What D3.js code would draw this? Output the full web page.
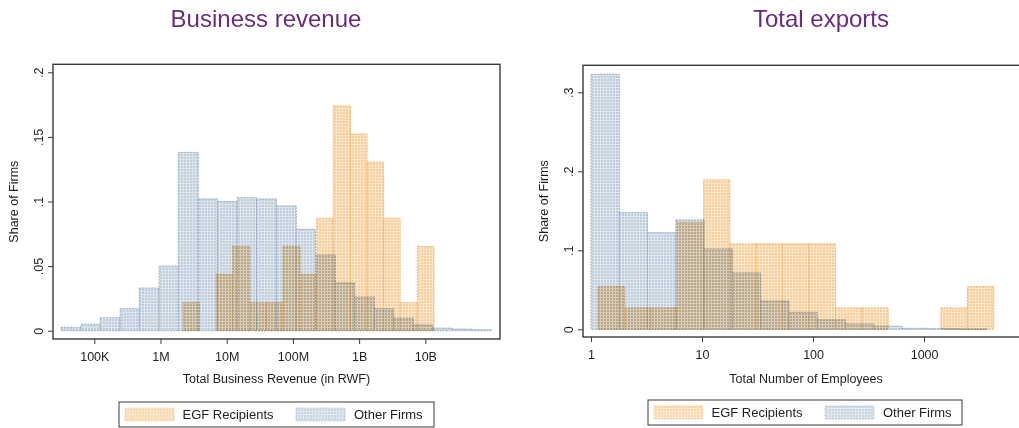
<!DOCTYPE html>
<html>
<head>
<meta charset="utf-8">
<script src="https://cdn.jsdelivr.net/npm/d3@7"></script>
<style>
  body { margin: 0; background: #fff; }
  svg text { font-family: "Liberation Sans", Arial, sans-serif; fill: #1e1e1e; }
</style>
</head>
<body>
<svg id="chart" width="1019" height="428"></svg>
<script>
// ---- Business revenue: bin edges in log10(RWF), share of firms per bin ----
const revOtherEdges = [4.50, 4.80, 5.09, 5.39, 5.68, 5.98, 6.27, 6.57, 6.86, 7.16, 7.45, 7.75,
                       8.05, 8.34, 8.64, 8.93, 9.23, 9.52, 9.82, 10.11, 10.41, 10.70, 11.00];
const revOtherShare = [0.0026, 0.005, 0.010, 0.017, 0.033, 0.050, 0.138, 0.102, 0.100, 0.103, 0.102,
                       0.0966, 0.0785, 0.0586, 0.037, 0.026, 0.017, 0.0096, 0.0044, 0.002, 0.0013, 0.0007];
const revEgfEdges = [6.34, 6.59, 6.84, 7.09, 7.35, 7.60, 7.85, 8.11, 8.36, 8.61, 8.87, 9.12, 9.37, 9.62, 9.88, 10.13];
const revEgfShare = [0.0217, 0, 0.0435, 0.0652, 0.0217, 0.0217, 0.0652, 0.0435, 0.087,
                     0.1739, 0.1522, 0.1304, 0.087, 0.0217, 0.0652];

// ---- Employees: bin edges in log10(employees), share of firms per bin ----
const empOtherEdges = [0.000, 0.255, 0.509, 0.764, 1.019, 1.274, 1.528, 1.783, 2.038, 2.292,
                       2.547, 2.802, 3.057, 3.311, 3.566];
const empOtherShare = [0.3228, 0.1476, 0.1223, 0.1384, 0.1017, 0.0713, 0.0358, 0.0215, 0.012,
                       0.0067, 0.004, 0.0013, 0.0008, 0.0005];
const empEgfEdges = [0.063, 0.301, 0.538, 0.776, 1.014, 1.251, 1.489, 1.727, 1.964, 2.202,
                     2.440, 2.677, 2.915, 3.152, 3.390, 3.628];
const empEgfShare = [0.0541, 0.027, 0.027, 0.1351, 0.1892, 0.1081, 0.1081, 0.1081, 0.1081,
                     0.027, 0.027, 0, 0, 0.027, 0.0541];

// ---- Axis ticks and labels ----
const revTickValues = [1e5, 1e6, 1e7, 1e8, 1e9, 1e10];
const revTickLabels = ["100K", "1M", "10M", "100M", "1B", "10B"];
const revShareTicks = [0, 0.05, 0.1, 0.15, 0.2];
const revShareLabels = ["0", ".05", ".1", ".15", ".2"];
const empTickValues = [1, 10, 100, 1000];
const empTickLabels = ["1", "10", "100", "1000"];
const empShareTicks = [0, 0.1, 0.2, 0.3];
const empShareLabels = ["0", ".1", ".2", ".3"];
const titles = ["Business revenue", "Total exports"];
const xTitles = ["Total Business Revenue (in RWF)", "Total Number of Employees"];
const yTitle = "Share of Firms";
const legendLabels = ["EGF Recipients", "Other Firms"];

const svg = d3.select("#chart");
svg.append("rect").attr("width", 1019).attr("height", 428).attr("fill", "#fff");

// Stata-like hatched fills: a flat colour crossed by a fine white grid
const defs = svg.append("defs");
function gridPattern(id, base) {
  const p = defs.append("pattern").attr("id", id)
    .attr("patternUnits", "userSpaceOnUse").attr("width", 3).attr("height", 3);
  p.append("rect").attr("width", 3).attr("height", 3).attr("fill", base);
  p.append("rect").attr("x", 0).attr("y", 0).attr("width", 1).attr("height", 3)
    .attr("fill", "#fff").attr("opacity", 0.45);
  p.append("rect").attr("x", 1).attr("y", 0).attr("width", 2).attr("height", 1)
    .attr("fill", "#fff").attr("opacity", 0.45);
}
gridPattern("fillOther", "#bfcddc");
gridPattern("fillEgf", "#f7cf9d");

const style = {
  other: { fill: "url(#fillOther)", stroke: "#8ea6bf" },
  egf:   { fill: "url(#fillEgf)",   stroke: "#f0b265" }
};

function drawPanel(p) {
  const g = svg.append("g");
  const x = d3.scaleLog().domain(p.xDomain).range([p.left, p.right]);
  const y = d3.scaleLinear().domain([0, p.yMax]).range([p.zeroY, p.topY]);

  function bars(edges, share, st) {
    const data = share.map((s, i) => ({ lo: edges[i], hi: edges[i + 1], s }))
      .filter(d => d.s > 0);
    g.append("g").style("mix-blend-mode", "multiply")
      .selectAll("rect").data(data).join("rect")
      .attr("x", d => x(Math.pow(10, d.lo)))
      .attr("width", d => x(Math.pow(10, d.hi)) - x(Math.pow(10, d.lo)))
      .attr("y", d => y(d.s))
      .attr("height", d => y(0) - y(d.s))
      .attr("fill", st.fill)
      .attr("stroke", st.stroke)
      .attr("stroke-width", 0.9)
      .attr("stroke-dasharray", "2,1");
  }
  bars(p.otherEdges, p.otherShare, style.other);
  bars(p.egfEdges, p.egfShare, style.egf);

  // plot frame
  g.append("rect")
    .attr("x", p.left).attr("y", p.frameTop)
    .attr("width", p.right - p.left).attr("height", p.axisY - p.frameTop)
    .attr("fill", "none").attr("stroke", "#3a3a3a").attr("stroke-width", 1.4);

  // x axis
  const xa = g.append("g").attr("transform", `translate(0,${p.axisY})`)
    .call(d3.axisBottom(x).tickValues(p.xTicks)
      .tickFormat((d, i) => p.xLabels[i]).tickSize(5).tickPadding(4));
  xa.select(".domain").remove();
  xa.selectAll("line").attr("stroke", "#3a3a3a");
  xa.selectAll("text").attr("font-size", 12.5).attr("fill", "#1e1e1e")
    .attr("dy", null).attr("y", 22);

  // y axis with vertical tick labels
  const ya = g.append("g").attr("transform", `translate(${p.left},0)`)
    .call(d3.axisLeft(y).tickValues(p.yTicks)
      .tickFormat((d, i) => p.yLabels[i]).tickSize(5));
  ya.select(".domain").remove();
  ya.selectAll("line").attr("stroke", "#3a3a3a");
  ya.selectAll("text").attr("font-size", 12.5).attr("fill", "#1e1e1e")
    .attr("x", 0).attr("dy", null).attr("text-anchor", "middle")
    .attr("transform", "translate(-10,0) rotate(-90)");

  // titles
  g.append("text").attr("x", p.titleX).attr("y", 27).attr("text-anchor", "middle")
    .attr("font-size", 24).style("fill", "#6b2c7c").text(p.title);
  g.append("text").attr("x", (p.left + p.right) / 2).attr("y", 383)
    .attr("text-anchor", "middle").attr("font-size", 12.5).text(p.xTitle);
  g.append("text").attr("transform", `translate(${p.yTitleX},${(p.frameTop + p.axisY) / 2}) rotate(-90)`)
    .attr("text-anchor", "middle").attr("font-size", 12.5).text(yTitle);

  // legend
  const L = p.legend;
  const lg = g.append("g");
  lg.append("rect").attr("x", L.x).attr("y", L.y).attr("width", L.w).attr("height", 25)
    .attr("fill", "#fff").attr("stroke", "#3a3a3a").attr("stroke-width", 1);
  const items = [
    { st: style.egf, sx: L.x + 6, tx: L.x + 63.5, label: legendLabels[0] },
    { st: style.other, sx: L.x + 177, tx: L.x + 235, label: legendLabels[1] }
  ];
  items.forEach(it => {
    lg.append("rect").attr("x", it.sx).attr("y", L.y + 6).attr("width", 49).attr("height", 13)
      .attr("fill", it.st.fill).attr("stroke", it.st.stroke).attr("stroke-width", 0.6)
      .attr("stroke-dasharray", "2,1").attr("opacity", 0.85);
    lg.append("text").attr("x", it.tx).attr("y", L.y + 17).attr("font-size", 13).text(it.label);
  });
}

drawPanel({
  left: 53, right: 500, frameTop: 64.3, axisY: 339, zeroY: 330.7, topY: 72.3, yMax: 0.2,
  xDomain: [Math.pow(10, 4.376), Math.pow(10, 11.128)],
  otherEdges: revOtherEdges, otherShare: revOtherShare,
  egfEdges: revEgfEdges, egfShare: revEgfShare,
  xTicks: revTickValues, xLabels: revTickLabels,
  yTicks: revShareTicks, yLabels: revShareLabels,
  title: titles[0], titleX: 266, xTitle: xTitles[0], yTitleX: 18,
  legend: { x: 119, y: 402, w: 315 }
});

drawPanel({
  left: 583, right: 1029, frameTop: 65.3, axisY: 337, zeroY: 329.3, topY: 92.3, yMax: 0.3,
  xDomain: [0.847, 8810],
  otherEdges: empOtherEdges, otherShare: empOtherShare,
  egfEdges: empEgfEdges, egfShare: empEgfShare,
  xTicks: empTickValues, xLabels: empTickLabels,
  yTicks: empShareTicks, yLabels: empShareLabels,
  title: titles[1], titleX: 821, xTitle: xTitles[1], yTitleX: 548,
  legend: { x: 648, y: 400, w: 314 }
});
</script>
</body>
</html>
